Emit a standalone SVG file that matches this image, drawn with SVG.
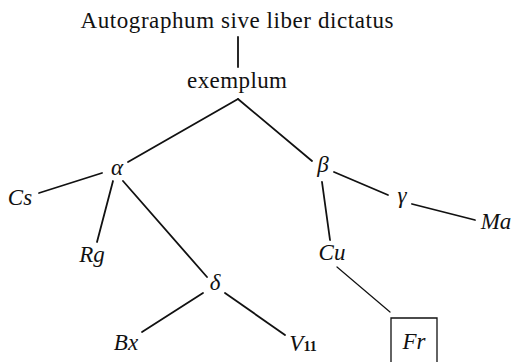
<svg xmlns="http://www.w3.org/2000/svg" width="513" height="362" viewBox="0 0 513 362" font-family="'Liberation Serif', 'DejaVu Serif', serif">
<style>
  text { font-family: 'Liberation Serif', 'DejaVu Serif', serif; fill: #111; text-anchor: middle; }
  .t { font-size: 23px; }
  .s { font-size: 23px; font-style: italic; }
  .c line { stroke: #111; stroke-width: 1.8; stroke-linecap: round; }
  .c line.thin { stroke-width: 1.2; }
  .box { fill: none; stroke: #111; stroke-width: 1.3; }
</style>
<rect width="513" height="362" fill="#fff"/>
<g id="connectors" class="c">
  <line x1="238" y1="37" x2="238" y2="67"/>
  <line x1="238" y1="99" x2="128" y2="162"/>
  <line x1="238" y1="99" x2="312" y2="161"/>
  <line x1="102" y1="173" x2="39" y2="193"/>
  <line x1="113" y1="181" x2="97" y2="242"/>
  <line x1="123" y1="181" x2="207" y2="277"/>
  <line x1="203" y1="293" x2="142" y2="332"/>
  <line x1="225" y1="293" x2="285" y2="335"/>
  <line x1="334" y1="172" x2="388" y2="195"/>
  <line x1="412" y1="204" x2="475" y2="220"/>
  <line x1="322" y1="182" x2="330" y2="240"/>
  <line class="thin" x1="337" y1="267" x2="390" y2="312"/>
</g>
<g id="autographum"><text class="t" x="237" y="28" textLength="313">Autographum sive liber dictatus</text></g>
<g id="exemplum"><text class="t" x="237" y="88" textLength="100">exemplum</text></g>
<g id="alpha"><text class="s" x="117" y="175">α</text></g>
<g id="beta"><text class="s" x="323" y="172">β</text></g>
<g id="gamma"><text class="s" x="402" y="203">γ</text></g>
<g id="delta"><text class="s" x="215" y="290">δ</text></g>
<g id="Cs"><text class="s" x="20" y="205">Cs</text></g>
<g id="Rg"><text class="s" x="92" y="262">Rg</text></g>
<g id="Cu"><text class="s" x="332" y="260">Cu</text></g>
<g id="Ma"><text class="s" x="496" y="229">Ma</text></g>
<g id="Bx"><text class="s" x="126" y="350">Bx</text></g>
<g id="V11"><text class="s" x="303" y="351">V<tspan font-style="normal" font-size="14" font-weight="bold">11</tspan></text></g>
<g id="Fr">
  <path class="box" d="M391,363 V318 H437 V363"/>
  <text class="s" x="414" y="349">Fr</text>
</g>
</svg>
